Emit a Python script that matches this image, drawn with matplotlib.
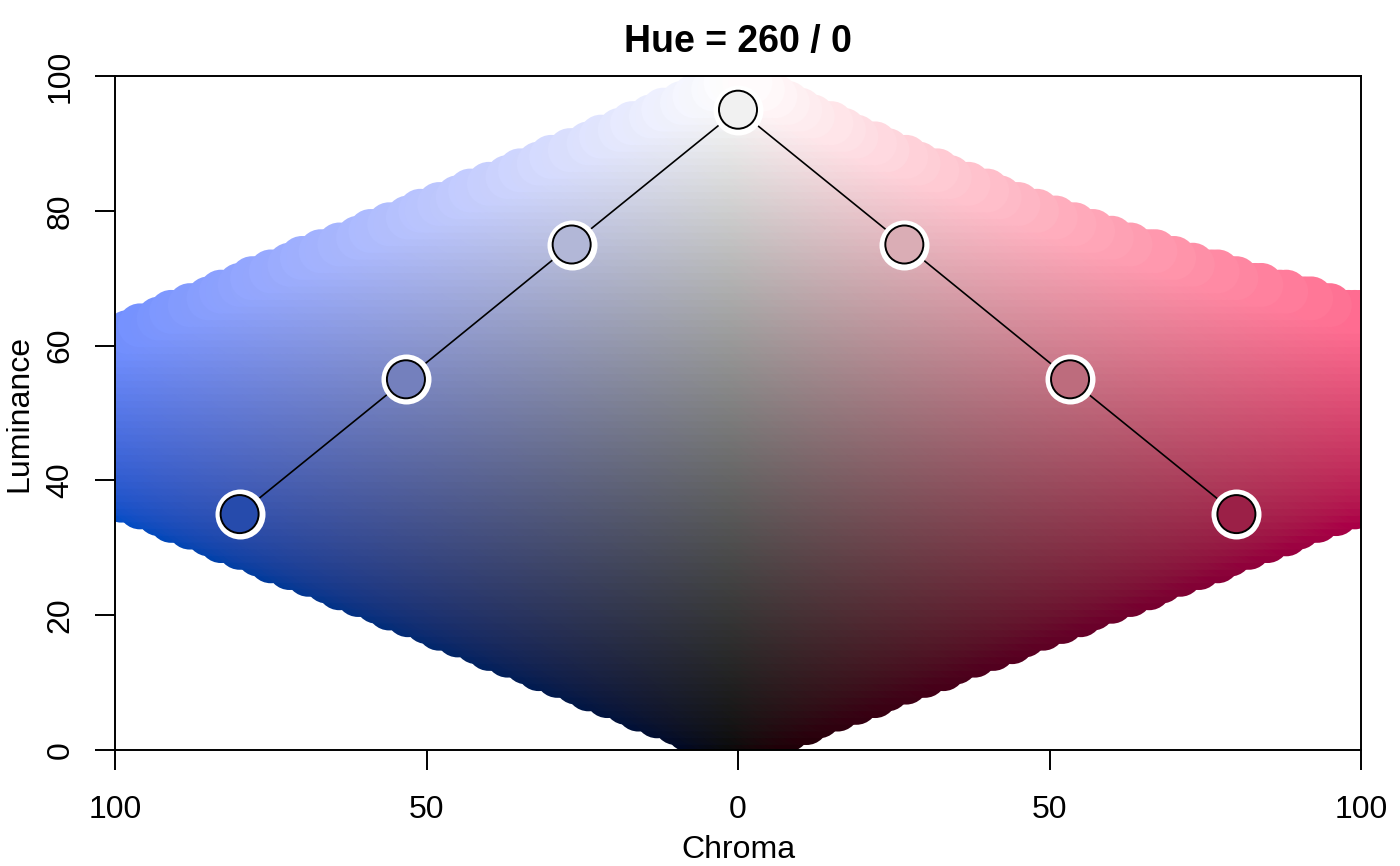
import numpy as np
import matplotlib
matplotlib.use("Agg")
import matplotlib.pyplot as plt

plt.rcParams['font.family'] = ['Liberation Sans', 'DejaVu Sans']

# palette shown in the chart (signed chroma: negative = hue 260 side)
pal_chroma = [-80, -53.3, -26.7, 0, 26.7, 53.3, 80]
pal_lum = [35, 55, 75, 95, 75, 55, 35]
hue_left = 260
hue_right = 0

xticks = [-100, -50, 0, 50, 100]
xticklabels = ["100", "50", "0", "50", "100"]
yticks = [0, 20, 40, 60, 80, 100]
title = "Hue = 260 / 0"


def hcl_to_rgb(h, c, l):
    h = np.deg2rad(np.asarray(h, float))
    c = np.asarray(c, float)
    l = np.asarray(l, float)
    xn, yn, zn = 95.047, 100.0, 108.883
    un = 4 * xn / (xn + 15 * yn + 3 * zn)
    vn = 9 * yn / (xn + 15 * yn + 3 * zn)
    u = c * np.cos(h)
    v = c * np.sin(h)
    Y = np.where(l > 7.999592, yn * ((l + 16) / 116) ** 3, yn * l / 903.3)
    ls = np.where(l > 0, l, 1.0)
    up = u / (13 * ls) + un
    vp = v / (13 * ls) + vn
    X = 9.0 * Y * up / (4 * vp)
    Z = -X / 3 - 5 * Y + 3 * Y / vp
    r = (3.240479 * X - 1.537150 * Y - 0.498535 * Z) / 100
    g = (-0.969256 * X + 1.875992 * Y + 0.041556 * Z) / 100
    b = (0.055648 * X - 0.204043 * Y + 1.057311 * Z) / 100
    rgb = np.stack([r, g, b], axis=-1)
    ok = np.all((rgb >= -1e-6) & (rgb <= 1 + 1e-6), axis=-1)
    ok = ok & ((l > 0) | (c == 0))
    rgb = np.clip(rgb, 0, 1)
    rgb = np.where(rgb > 0.0031308, 1.055 * rgb ** (1 / 2.4) - 0.055, 12.92 * rgb)
    rgb = np.where(l[..., None] > 0, rgb, 0.0)
    return np.clip(rgb, 0, 1), ok


# background: HCL space sampled on integer grid
gc, gl = np.meshgrid(np.arange(-100, 101), np.arange(0, 101))
gc = gc.ravel()
gl = gl.ravel()
gh = np.where(gc < 0, hue_left, hue_right)
bg_rgb, bg_ok = hcl_to_rgb(gh, np.abs(gc), gl)

pal_x = np.array(pal_chroma)
pal_h = np.where(pal_x < 0, hue_left, hue_right)
pal_rgb, _ = hcl_to_rgb(pal_h, np.abs(pal_x), pal_lum)

fig = plt.figure(figsize=(14, 8.66), dpi=100)
ax = fig.add_axes([115 / 1400, 1 - 750 / 866, 1246 / 1400, 674 / 866])

ax.scatter(gc[bg_ok], gl[bg_ok], s=1000, c=bg_rgb[bg_ok], linewidths=0, zorder=1)
ax.plot(pal_x, pal_lum, color="black", lw=1.2, zorder=2)
ax.scatter(pal_x, pal_lum, s=1296, c="white", linewidths=0, zorder=3)
ax.scatter(pal_x, pal_lum, s=750, c=pal_rgb, edgecolors="black", linewidths=1.4, zorder=4)

ax.set_xlim(-100, 100)
ax.set_ylim(0, 100)
ax.set_xticks(xticks)
ax.set_xticklabels(xticklabels)
ax.set_yticks(yticks)
for sp in ax.spines.values():
    sp.set_linewidth(1.4)
ax.tick_params(direction="out", length=14.4, width=1.4, labelsize=23)
ax.tick_params(axis="x", pad=18)
ax.tick_params(axis="y", pad=14, labelrotation=90)
for lab in ax.get_yticklabels():
    lab.set_va("center")

fig.text(738 / 1400, 1 - 858 / 866, "Chroma", ha="center", va="baseline", fontsize=23)
fig.text(19 / 1400, 1 - 413 / 866, "Luminance", ha="center", va="center",
         rotation=90, fontsize=23)
fig.text(738 / 1400, 1 - 52 / 866, title, ha="center", va="baseline",
         fontsize=27, fontweight="bold")

fig.savefig("out.png", dpi=100)
